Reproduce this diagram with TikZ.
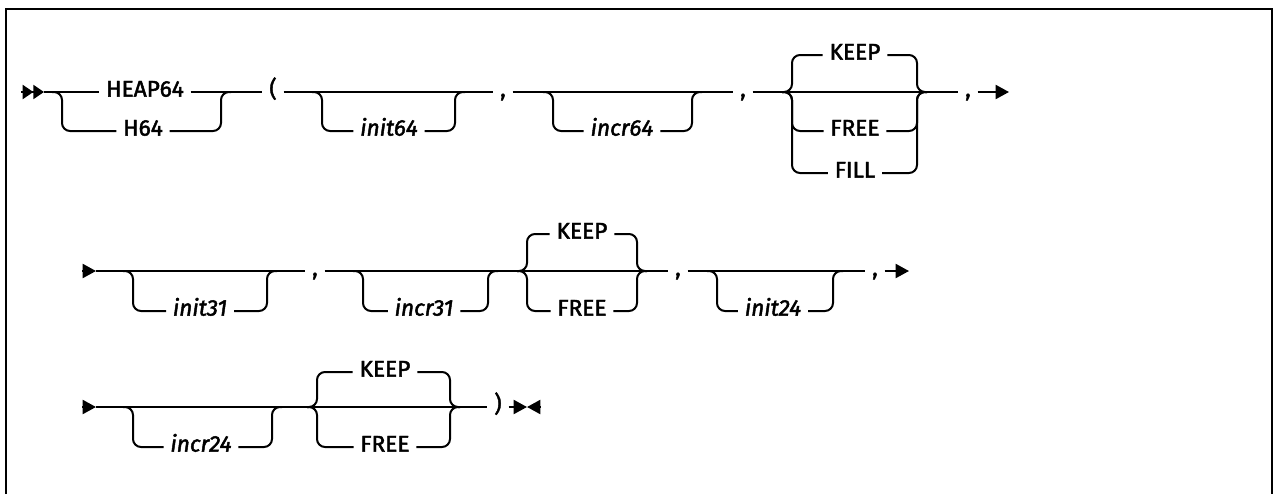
\documentclass[tikz,border=0pt]{standalone}
\usepackage{fontspec}
\setmainfont{Fira Sans}[UprightFeatures={FakeBold=2},ItalicFeatures={FakeBold=2}]
\usetikzlibrary{arrows.meta}

\tikzset{
  rail/.style={line width=1.5pt,rounded corners=6pt},
  kw/.style={font=\fontsize{17}{20}\selectfont,inner xsep=5pt,inner ysep=0pt,
    text height=0.69em,text depth=0pt},
  var/.style={kw,font=\fontsize{17}{20}\selectfont\itshape},
  arr/.style={-{Triangle[length=10pt,width=10.5pt]}},
  arrtwo/.style={-{Triangle[length=8pt,width=10.5pt,sep=0pt]Triangle[length=8pt,width=10.5pt]}}
}

\begin{document}
\begin{tikzpicture}[x=0.75pt,y=-0.75pt]
      \useasboundingbox (0,0) rectangle (1274,494);
      \draw[line width=2.2pt] (6,494) -- (6,9) -- (1272,9) -- (1272,494);

      % first line
      \draw
        (145,92) node[kw] (heap){HEAP64}
        (143,131) node[kw] (h){H64}
        (273,92) node[kw] (lpar){(}
        (389,131) node[var] (init64){init64}
        (503,92) node[kw] (c1){,}
        (622,131) node[var] (incr64){incr64}
        (743,92) node[kw] (c2){,}
        (855,55) node[kw] (keep1){KEEP}
        (855,131) node[kw] (free1){FREE}
        (855,173) node[kw] (fill1){FILL}
        (968,92) node[kw] (c3){,};
      \coordinate (s1) at (21,92);
      \coordinate (s1b) at (44,92);
      \coordinate (a1) at (62,92);
      \coordinate (a2) at (221,92);
      \coordinate (b1) at (322,92);
      \coordinate (b2) at (455,92);
      \coordinate (d1) at (553,92);
      \coordinate (d2) at (692,92);
      \coordinate (k1) at (792,92);
      \coordinate (k2) at (917,92);
      \coordinate (e1) at (1009,92);
      \begin{scope}[rail]
        \draw[arrtwo] (s1) -- (s1b);
        \draw (s1b) -- (heap) -- (lpar) -- (c1) -- (c2) -- (c3);
        \draw[arr] (c3) -- (e1);
        \draw ([xshift=-7.5pt]a1) -- (a1) |- (h) -| (a2) -- ([xshift=7.5pt]a2);
        \draw ([xshift=-7.5pt]b1) -- (b1) |- (init64) -| (b2) -- ([xshift=7.5pt]b2);
        \draw ([xshift=-7.5pt]d1) -- (d1) |- (incr64) -| (d2) -- ([xshift=7.5pt]d2);
        \foreach \n in {keep1,free1,fill1}
          \draw ([xshift=-7.5pt]k1) -- (k1) |- (\n) -| (k2) -- ([xshift=7.5pt]k2);
      \end{scope}

      % second line
      \draw
        (200,311) node[var] (init31){init31}
        (315,271) node[kw] (c4){,}
        (424,311) node[var] (incr31){incr31}
        (582,234) node[kw] (keep2){KEEP}
        (582,311) node[kw] (free2){FREE}
        (678,271) node[kw] (c5){,}
        (773,311) node[var] (init24){init24}
        (875,271) node[kw] (c6){,};
      \coordinate (s2) at (82,271);
      \coordinate (s2b) at (96,271);
      \coordinate (f1) at (133,271);
      \coordinate (f2) at (267,271);
      \coordinate (g1) at (363,271);
      \coordinate (g2) at (488,271);
      \coordinate (k3) at (527,271);
      \coordinate (k4) at (637,271);
      \coordinate (m1) at (717,271);
      \coordinate (m2) at (833,271);
      \coordinate (e2) at (909,271);
      \begin{scope}[rail]
        \draw[arr] (s2) -- (s2b);
        \draw (s2b) -- (c4) -- (c5) -- (c6);
        \draw[arr] (c6) -- (e2);
        \draw ([xshift=-7.5pt]f1) -- (f1) |- (init31) -| (f2) -- ([xshift=7.5pt]f2);
        \draw ([xshift=-7.5pt]g1) -- (g1) |- (incr31) -| (g2) -- ([xshift=7.5pt]g2);
        \draw ([xshift=-7.5pt]m1) -- (m1) |- (init24) -| (m2) -- ([xshift=7.5pt]m2);
        \foreach \n in {keep2,free2}
          \draw ([xshift=-7.5pt]k3) -- (k3) |- (\n) -| (k4) -- ([xshift=7.5pt]k4);
      \end{scope}

      % third line
      \draw
        (201,447) node[var] (incr24){incr24}
        (385,372) node[kw] (keep3){KEEP}
        (385,447) node[kw] (free3){FREE}
        (498,407) node[kw] (rpar){)};
      \coordinate (s3) at (82,407);
      \coordinate (s3b) at (96,407);
      \coordinate (n1) at (133,407);
      \coordinate (n2) at (272,407);
      \coordinate (k5) at (317,407);
      \coordinate (k6) at (450,407);
      \coordinate (e3) at (527,407);
      \coordinate (e3b) at (540,407);
      \begin{scope}[rail]
        \draw[arr] (s3) -- (s3b);
        \draw (s3b) -- (rpar);
        \draw[arr] (rpar) -- (e3);
        \draw[arr] (e3b) -- (e3);
        \draw ([xshift=-7.5pt]n1) -- (n1) |- (incr24) -| (n2) -- ([xshift=7.5pt]n2);
        \foreach \n in {keep3,free3}
          \draw ([xshift=-7.5pt]k5) -- (k5) |- (\n) -| (k6) -- ([xshift=7.5pt]k6);
      \end{scope}
    \end{tikzpicture}
\end{document}
